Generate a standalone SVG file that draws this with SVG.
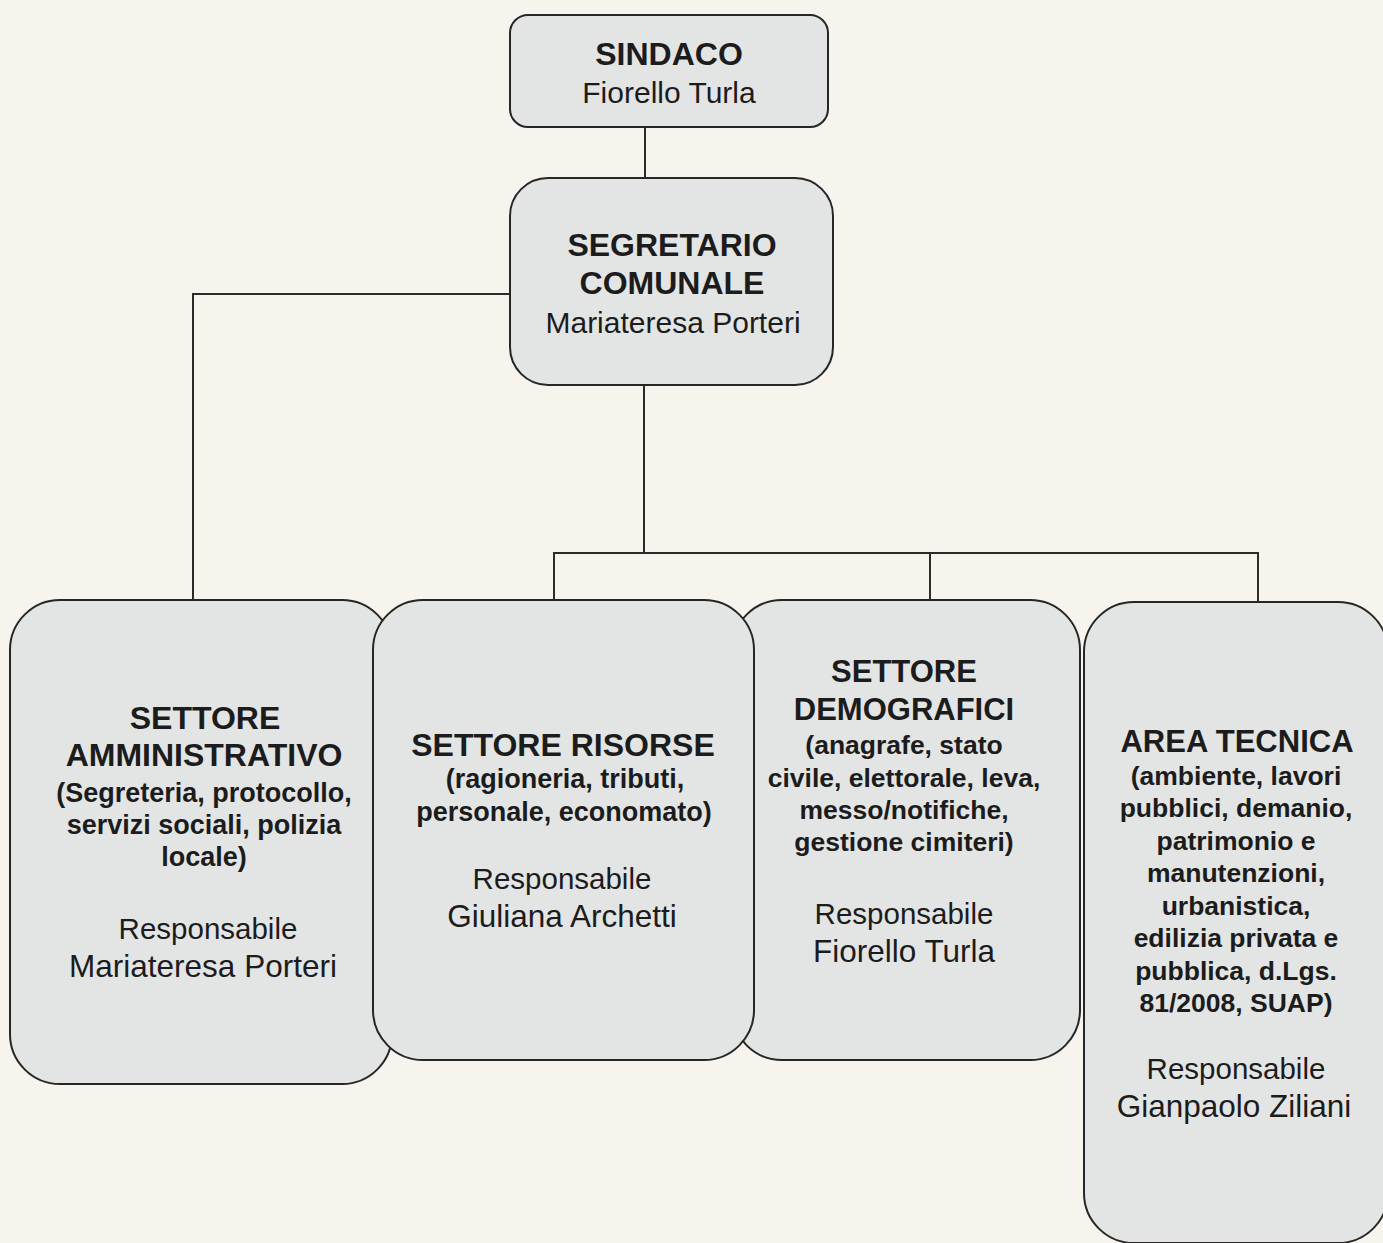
<svg xmlns="http://www.w3.org/2000/svg" width="1383" height="1243" viewBox="0 0 1383 1243">
<style>
.box{fill:#e3e5e5;stroke:#262626;stroke-width:2}
.ln{fill:none;stroke:#2b2b2b;stroke-width:2}
text{font-family:"Liberation Sans",Arial,sans-serif;fill:#1c1c1c;text-anchor:middle}
.h{font-weight:bold;font-size:32px}
.h3{font-weight:bold;font-size:31px}
.s{font-weight:bold;font-size:27px}
.s3{font-weight:bold;font-size:26.5px}
.r{font-size:29.5px}
.n{font-size:31.5px}
.nt{font-size:30px}
</style>
<rect width="1383" height="1243" fill="#f6f4ec"/>
<g id="connectors">
<path class="ln" d="M645 127V178"/>
<path class="ln" d="M510 294H193V600"/>
<path class="ln" d="M644 385V553"/>
<path class="ln" d="M554 600V553H1258V602"/>
<path class="ln" d="M930 553V600"/>
</g>
<g id="sindaco">
<rect class="box" x="510" y="15" width="318" height="112" rx="18"/>
<text class="h" x="669" y="65">SINDACO</text>
<text class="nt" x="669" y="103">Fiorello Turla</text>
</g>
<g id="segretario">
<rect class="box" x="510" y="178" width="323" height="207" rx="38"/>
<text class="h" x="672" y="256">SEGRETARIO</text>
<text class="h" x="672" y="294">COMUNALE</text>
<text class="nt" x="673" y="333">Mariateresa Porteri</text>
</g>
<g id="amministrativo">
<rect class="box" x="10" y="600" width="382" height="484" rx="50"/>
<text class="h" x="205" y="729">SETTORE</text>
<text class="h" x="204" y="766">AMMINISTRATIVO</text>
<text class="s" x="204" y="802">(Segreteria, protocollo,</text>
<text class="s" x="204" y="834">servizi sociali, polizia</text>
<text class="s" x="204" y="866">locale)</text>
<text class="r" x="208" y="939">Responsabile</text>
<text class="n" x="203" y="977">Mariateresa Porteri</text>
</g>
<g id="area-tecnica">
<rect class="box" x="1084" y="602" width="304" height="641" rx="50"/>
<text class="h3" x="1237" y="752">AREA TECNICA</text>
<text class="s3" x="1236" y="785">(ambiente, lavori</text>
<text class="s3" x="1236" y="817">pubblici, demanio,</text>
<text class="s3" x="1236" y="850">patrimonio e</text>
<text class="s3" x="1236" y="882">manutenzioni,</text>
<text class="s3" x="1236" y="915">urbanistica,</text>
<text class="s3" x="1236" y="947">edilizia privata e</text>
<text class="s3" x="1236" y="980">pubblica, d.Lgs.</text>
<text class="s3" x="1236" y="1012">81/2008, SUAP)</text>
<text class="r" x="1236" y="1079">Responsabile</text>
<text class="n" x="1234" y="1117">Gianpaolo Ziliani</text>
</g>
<g id="demografici">
<rect class="box" x="732" y="600" width="348" height="460" rx="50"/>
<text class="h3" x="904" y="682">SETTORE</text>
<text class="h3" x="904" y="720">DEMOGRAFICI</text>
<text class="s3" x="904" y="754">(anagrafe, stato</text>
<text class="s3" x="904" y="787">civile, elettorale, leva,</text>
<text class="s3" x="904" y="819">messo/notifiche,</text>
<text class="s3" x="904" y="851">gestione cimiteri)</text>
<text class="r" x="904" y="924">Responsabile</text>
<text class="n" x="904" y="962">Fiorello Turla</text>
</g>
<g id="risorse">
<rect class="box" x="373" y="600" width="381" height="460" rx="50"/>
<text class="h" x="563" y="756">SETTORE RISORSE</text>
<text class="s" x="565" y="788">(ragioneria, tributi,</text>
<text class="s" x="564" y="821">personale, economato)</text>
<text class="r" x="562" y="889">Responsabile</text>
<text class="n" x="562" y="927">Giuliana Archetti</text>
</g>
</svg>
